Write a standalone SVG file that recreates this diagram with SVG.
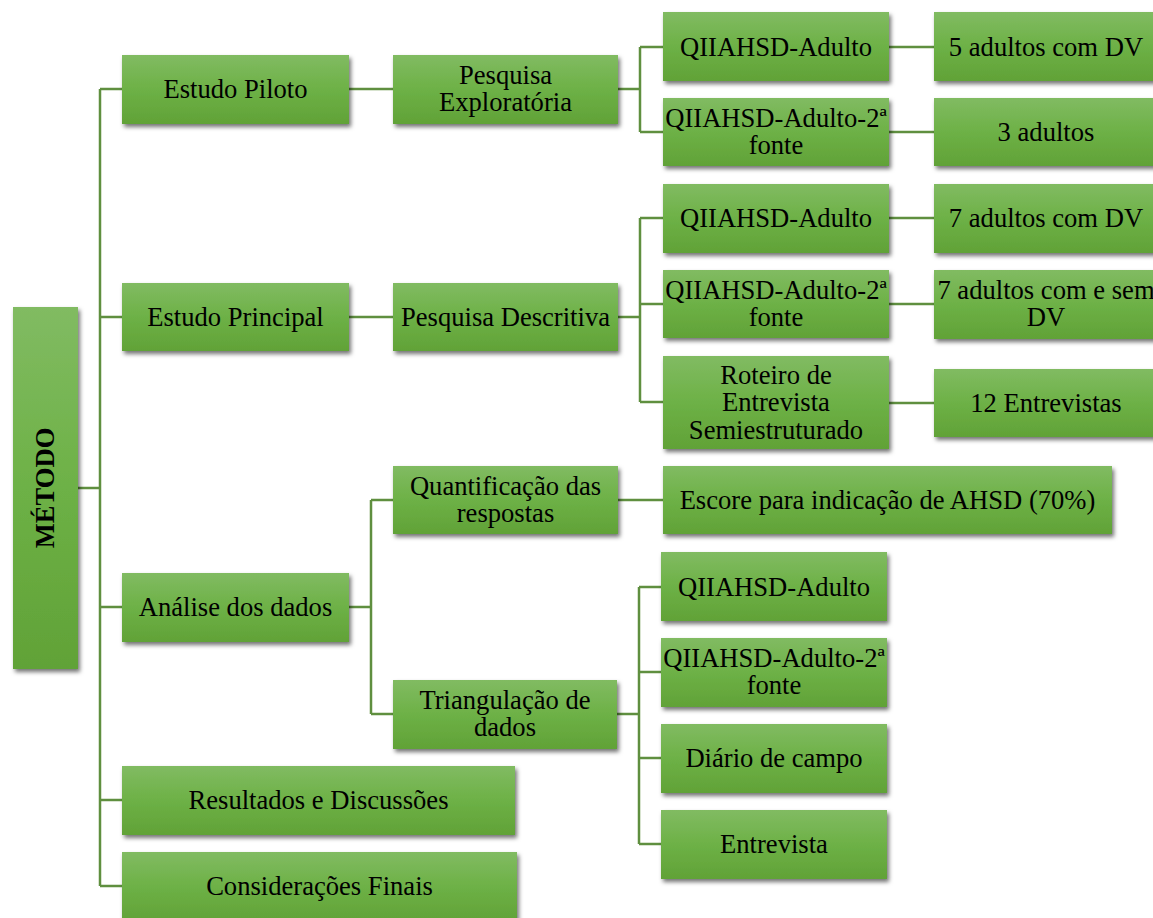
<svg xmlns="http://www.w3.org/2000/svg" width="1153" height="918" viewBox="0 0 1153 918">
  <defs>
    <linearGradient id="boxFill" x1="0" y1="0" x2="0" y2="1">
      <stop offset="0" stop-color="#81bb62"/>
      <stop offset="0.5" stop-color="#6db146"/>
      <stop offset="1" stop-color="#61a237"/>
    </linearGradient>
    <filter id="shadow" x="-10%" y="-10%" width="125%" height="140%">
      <feDropShadow dx="2" dy="3" stdDeviation="2" flood-color="#000" flood-opacity="0.55"/>
    </filter>
  </defs>
  <style>
    .box { fill: url(#boxFill); filter: url(#shadow); }
    .lbl { font-family: "Liberation Serif", "Times New Roman", serif; font-size: 26.6px; fill: #000; text-anchor: middle; }
    .title { font-weight: bold; }
    #connectors path { fill: none; stroke: #5f8f3f; stroke-width: 2.5; }
  </style>
  <rect width="1153" height="918" fill="#fff"/>

  <!-- tree links -->
  <g id="connectors">
    <path d="M78 488H100M100 89V886M100 89H122M100 317H122M100 607H122M100 800H122M100 886H122"/>
    <path d="M349 89H393M618 89H640M640 47V132M640 47H663M640 132H663M889 47H934M889 132H934"/>
    <path d="M349 317H393M618 317H640M640 218V402M640 218H663M640 304H663M640 402H663M889 218H934M889 304H934M889 403H934"/>
    <path d="M349 607H371M371 500V714M371 500H393M371 714H393M618 500H663"/>
    <path d="M617 714H639M639 587V844M639 587H661M639 672H661M639 758H661M639 844H661"/>
  </g>

  <g id="metodo">
    <rect class="box" x="13" y="307" width="65" height="362"/>
    <text class="lbl title" transform="translate(54 488) rotate(-90)">MÉTODO</text>
  </g>

  <g id="estudo-piloto">
    <rect class="box" x="122" y="55" width="227" height="69"/>
    <text class="lbl" x="235.5" y="98">Estudo Piloto</text>
  </g>
  <g id="estudo-principal">
    <rect class="box" x="122" y="283" width="227" height="68"/>
    <text class="lbl" x="235.5" y="326">Estudo Principal</text>
  </g>
  <g id="analise-dados">
    <rect class="box" x="122" y="573" width="227" height="69"/>
    <text class="lbl" x="235.5" y="616">Análise dos dados</text>
  </g>
  <g id="resultados">
    <rect class="box" x="122" y="766" width="393" height="69"/>
    <text class="lbl" x="318.5" y="809">Resultados e Discussões</text>
  </g>
  <g id="consideracoes">
    <rect class="box" x="122" y="852" width="395" height="70"/>
    <text class="lbl" x="319.5" y="895">Considerações Finais</text>
  </g>

  <g id="pesquisa-exploratoria">
    <rect class="box" x="393" y="55" width="225" height="69"/>
    <text class="lbl" x="505.5" y="84">Pesquisa</text>
    <text class="lbl" x="505.5" y="111">Exploratória</text>
  </g>
  <g id="pesquisa-descritiva">
    <rect class="box" x="393" y="283" width="225" height="68"/>
    <text class="lbl" x="505.5" y="326">Pesquisa Descritiva</text>
  </g>
  <g id="quantificacao">
    <rect class="box" x="393" y="466" width="225" height="68"/>
    <text class="lbl" x="505.5" y="495">Quantificação das</text>
    <text class="lbl" x="505.5" y="522">respostas</text>
  </g>
  <g id="triangulacao">
    <rect class="box" x="393" y="680" width="224" height="69"/>
    <text class="lbl" x="505" y="709">Triangulação de</text>
    <text class="lbl" x="505" y="736">dados</text>
  </g>

  <g id="piloto-qiiahsd">
    <rect class="box" x="663" y="12" width="226" height="69"/>
    <text class="lbl" x="776" y="56">QIIAHSD-Adulto</text>
  </g>
  <g id="piloto-qiiahsd-2">
    <rect class="box" x="663" y="98" width="226" height="68"/>
    <text class="lbl" x="776" y="127">QIIAHSD-Adulto-2ª</text>
    <text class="lbl" x="776" y="154">fonte</text>
  </g>
  <g id="piloto-5-adultos">
    <rect class="box" x="934" y="12" width="225" height="69"/>
    <text class="lbl" x="1046" y="56">5 adultos com DV</text>
  </g>
  <g id="piloto-3-adultos">
    <rect class="box" x="934" y="98" width="225" height="68"/>
    <text class="lbl" x="1046" y="141">3 adultos</text>
  </g>

  <g id="principal-qiiahsd">
    <rect class="box" x="663" y="184" width="226" height="69"/>
    <text class="lbl" x="776" y="227">QIIAHSD-Adulto</text>
  </g>
  <g id="principal-qiiahsd-2">
    <rect class="box" x="663" y="270" width="226" height="68"/>
    <text class="lbl" x="776" y="299">QIIAHSD-Adulto-2ª</text>
    <text class="lbl" x="776" y="326">fonte</text>
  </g>
  <g id="principal-roteiro">
    <rect class="box" x="663" y="356" width="226" height="93"/>
    <text class="lbl" x="776" y="384">Roteiro de</text>
    <text class="lbl" x="776" y="411">Entrevista</text>
    <text class="lbl" x="776" y="439">Semiestruturado</text>
  </g>
  <g id="principal-7-adultos">
    <rect class="box" x="934" y="184" width="225" height="69"/>
    <text class="lbl" x="1046" y="227">7 adultos com DV</text>
  </g>
  <g id="principal-7-adultos-2">
    <rect class="box" x="934" y="270" width="225" height="69"/>
    <text class="lbl" x="1046" y="299">7 adultos com e sem</text>
    <text class="lbl" x="1046" y="326">DV</text>
  </g>
  <g id="principal-12-entrevistas">
    <rect class="box" x="934" y="369" width="225" height="68"/>
    <text class="lbl" x="1046" y="412">12 Entrevistas</text>
  </g>

  <g id="escore">
    <rect class="box" x="663" y="466" width="449" height="68"/>
    <text class="lbl" x="887.5" y="509">Escore para indicação de AHSD (70%)</text>
  </g>

  <g id="tri-qiiahsd">
    <rect class="box" x="661" y="552" width="226" height="69"/>
    <text class="lbl" x="774" y="596">QIIAHSD-Adulto</text>
  </g>
  <g id="tri-qiiahsd-2">
    <rect class="box" x="661" y="638" width="226" height="69"/>
    <text class="lbl" x="774" y="667">QIIAHSD-Adulto-2ª</text>
    <text class="lbl" x="774" y="694">fonte</text>
  </g>
  <g id="tri-diario">
    <rect class="box" x="661" y="724" width="226" height="69"/>
    <text class="lbl" x="774" y="767">Diário de campo</text>
  </g>
  <g id="tri-entrevista">
    <rect class="box" x="661" y="810" width="226" height="69"/>
    <text class="lbl" x="774" y="853">Entrevista</text>
  </g>
</svg>
